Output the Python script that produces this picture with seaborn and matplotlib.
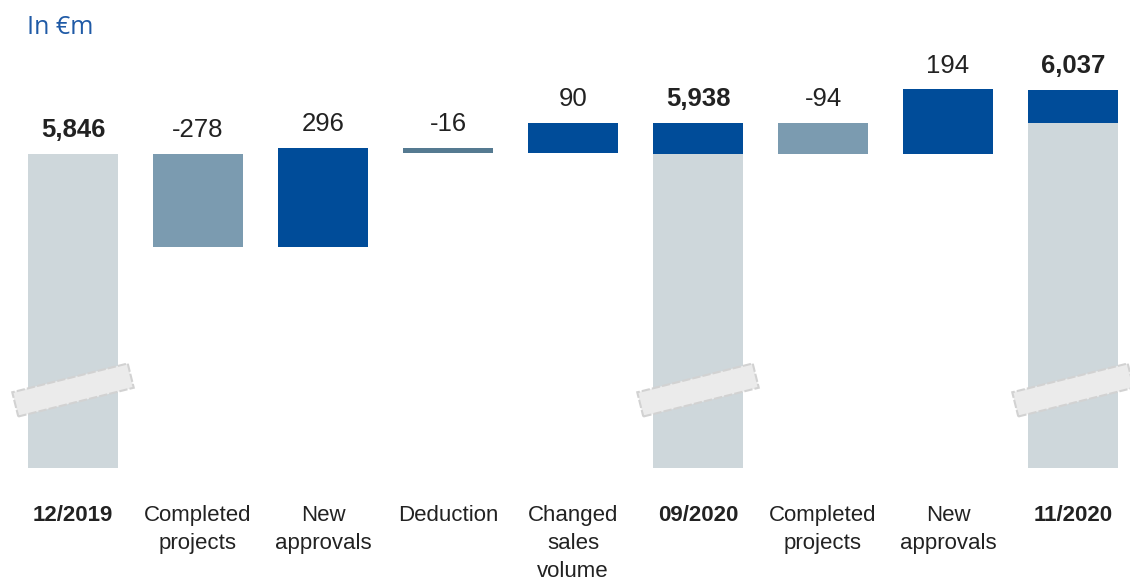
import numpy as np
import pandas as pd
import matplotlib
matplotlib.use("Agg")
import matplotlib.pyplot as plt
import matplotlib.transforms as mtransforms
from matplotlib.patches import Rectangle
import seaborn as sns

# --- data -------------------------------------------------------------
categories = ["12/2019", "Completed\nprojects", "New\napprovals", "Deduction",
              "Changed\nsales\nvolume", "09/2020", "Completed\nprojects",
              "New\napprovals", "11/2020"]
step_kind = ["total", "completed", "approval", "deduction", "sales",
             "total", "completed", "approval", "total"]
values = [5846, -278, 296, -16, 90, 5938, -94, 194, 6037]
value_labels = ["5,846", "-278", "296", "-16", "90", "5,938", "-94", "194", "6,037"]

# --- styling ----------------------------------------------------------
AXIS_FLOOR = 4906          # value where the truncated total bars start
AXIS_TOP = 6305
BAR_WIDTH = 0.72
kind_colors = {
    "base": "#CED7DB",
    "increase": "#004C99",
    "completed": "#7B9BB0",
    "approval": "#004C99",
    "sales": "#004C99",
    "deduction": "#557A91",
}
TEXT = "#222222"

sns.set_theme(style="white")
plt.rcParams["font.family"] = ["Liberation Sans", "DejaVu Sans"]

# --- waterfall segments ----------------------------------------------
rows = []
running = None
prev_total = None
tops = []
for i, (kind, v) in enumerate(zip(step_kind, values)):
    if kind == "total":
        base_top = v if prev_total is None else prev_total
        rows.append(dict(pos=str(i), bottom=AXIS_FLOOR, height=base_top - AXIS_FLOOR, layer="base"))
        if prev_total is not None and v > prev_total:
            rows.append(dict(pos=str(i), bottom=prev_total, height=v - prev_total, layer="increase"))
        prev_total = v
        running = v
        tops.append(v)
    else:
        lo, hi = min(running, running + v), max(running, running + v)
        rows.append(dict(pos=str(i), bottom=lo, height=hi - lo, layer=kind))
        running += v
        tops.append(hi)
segments = pd.DataFrame(rows)
order = [str(i) for i in range(len(categories))]

fig = plt.figure(figsize=(11.3, 5.81), dpi=100)
ax = fig.add_axes([0, 113 / 581, 1, 468 / 581])

for layer, sub in segments.groupby("layer", sort=False):
    sub = sub.assign(_k=sub["pos"].astype(int)).sort_values("_k")
    sns.barplot(data=sub, x="pos", y="height", order=order,
                bottom=sub["bottom"].to_numpy(), width=BAR_WIDTH,
                color=kind_colors[layer], saturation=1, errorbar=None,
                linewidth=0, zorder=2, ax=ax)

ax.set_xlim(-73 / 125, (1130 - 73) / 125)
ax.set_ylim(AXIS_FLOOR, AXIS_TOP)
ax.set_xlabel("")
ax.set_ylabel("")
ax.set_yticks([])
sns.despine(ax=ax, left=True, bottom=True)

# category labels under the bars
ax.set_xticks(range(len(categories)))
ax.set_xticklabels(categories, fontsize=16, color=TEXT, linespacing=1.45)
ax.tick_params(axis="x", length=0, pad=26.5)
for lbl, kind in zip(ax.get_xticklabels(), step_kind):
    if kind == "total":
        lbl.set_fontweight("bold")

# value labels above each bar
for i, (lab, top, kind) in enumerate(zip(value_labels, tops, step_kind)):
    ax.annotate(lab, xy=(i, top), xytext=(0, 12), textcoords="offset points",
                ha="center", va="baseline", fontsize=18.5, color=TEXT,
                fontweight="bold" if kind == "total" else "normal")

# axis-break markers across the truncated total bars
blend = mtransforms.blended_transform_factory(ax.transData, ax.transAxes)
for i, kind in enumerate(step_kind):
    if kind != "total":
        continue
    tr = (mtransforms.Affine2D().rotate_deg(14) + fig.dpi_scale_trans
          + mtransforms.ScaledTranslation(i, 78 / 468, blend))
    brk = Rectangle((-0.595, -0.125), 1.19, 0.25, transform=tr,
                    facecolor="#EBEBEB", edgecolor="#D2D2D2", linewidth=1.5,
                    linestyle=(0, (4, 1)), zorder=5, clip_on=False)
    ax.add_patch(brk)

fig.text(27 / 1130, 1 - 34 / 581, "In €m", ha="left", va="baseline",
         fontsize=18, color="#1F5AA6", family=["Open Sans", "DejaVu Sans"])

fig.savefig("out.png", dpi=100)
